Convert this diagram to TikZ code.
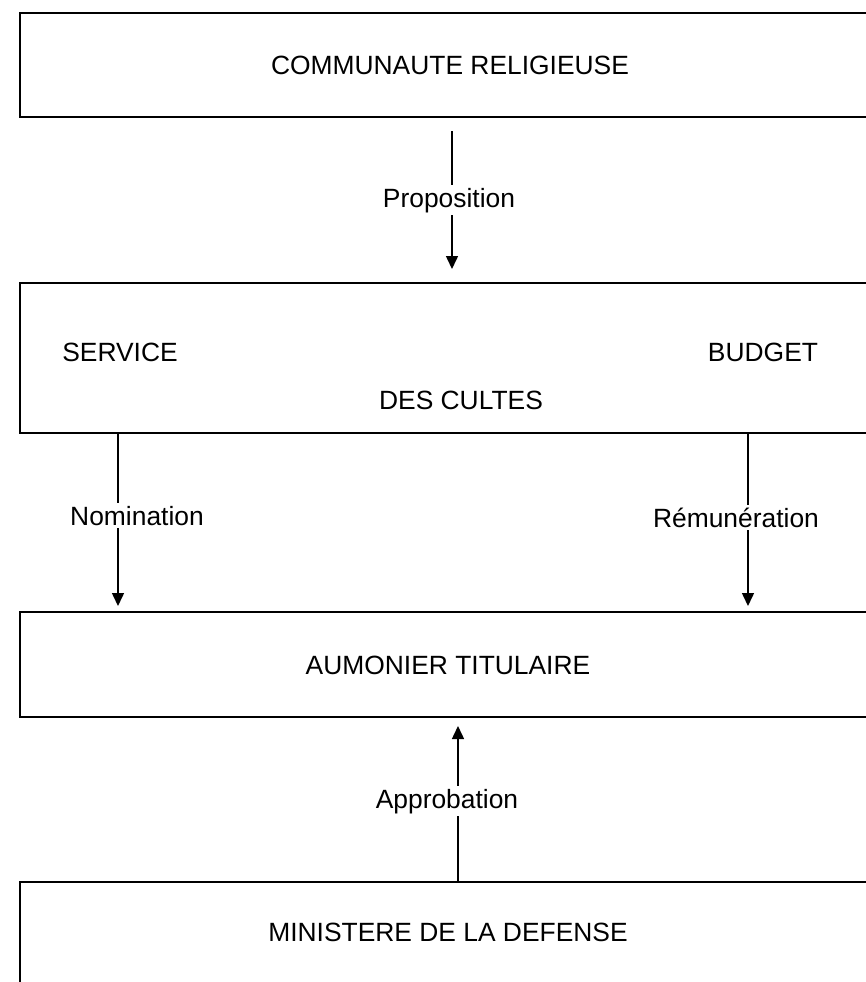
\documentclass[tikz,border=0pt]{standalone}
\usepackage{fontspec}
\setmainfont{Liberation Sans}
\usetikzlibrary{arrows.meta}
\begin{document}
\begin{tikzpicture}[x=0.5pt,y=-0.5pt,
  box/.style={draw, line width=1pt, inner sep=0pt, outer sep=0pt, anchor=north west, minimum width=435.5pt},
  txt/.style={anchor=base, inner sep=0pt, font=\fontsize{13.2pt}{15pt}\selectfont},
  lbl/.style={anchor=base, fill=white, inner xsep=0pt, inner ysep=1.5pt, font=\fontsize{13.2pt}{15pt}\selectfont},
  conn/.style={line width=0.75pt, -{Triangle[length=6.5pt,width=6pt]}}]
\clip (0,0) rectangle (866,982);
\fill[white] (0,0) rectangle (866,982);
% boxes
\node[box, minimum height=52pt] (b1) at (20,13) {};
\node[box, minimum height=75pt] (b2) at (20,283) {};
\node[box, minimum height=52.5pt] (b3) at (20,612) {};
\node[box, minimum height=60pt] (b4) at (20,882) {};
% box texts
\node[txt] (t1) at (450,74.5) {COMMUNAUTE RELIGIEUSE};
\node[txt] (t2a) at (120,361) {SERVICE};
\node[txt] (t2b) at (763,361) {BUDGET};
\node[txt] (t2c) at (461,409) {DES CULTES};
\node[txt] (t3) at (448,674) {AUMONIER TITULAIRE};
\node[txt] (t4) at (448,941) {MINISTERE DE LA DEFENSE};
% connector end points
\coordinate (ps) at (452,131);
\coordinate (pe) at (452,269);
\coordinate (ns) at (118,433);
\coordinate (ne) at (118,606);
\coordinate (rs) at (748,433);
\coordinate (re) at (748,606);
\coordinate (as) at (458,882);
\coordinate (ae) at (458,726);
% connectors
\draw[conn] (ps) -- (pe);
\draw[conn] (ns) -- (ne);
\draw[conn] (rs) -- (re);
\draw[conn] (as) -- (ae);
% labels
\node[lbl] (lp) at (449,207) {Proposition};
\node[lbl] (ln) at (137,525) {Nomination};
\node[lbl] (lr) at (736,527) {Rémunération};
\node[lbl] (la) at (447,808) {Approbation};
\end{tikzpicture}
\end{document}
